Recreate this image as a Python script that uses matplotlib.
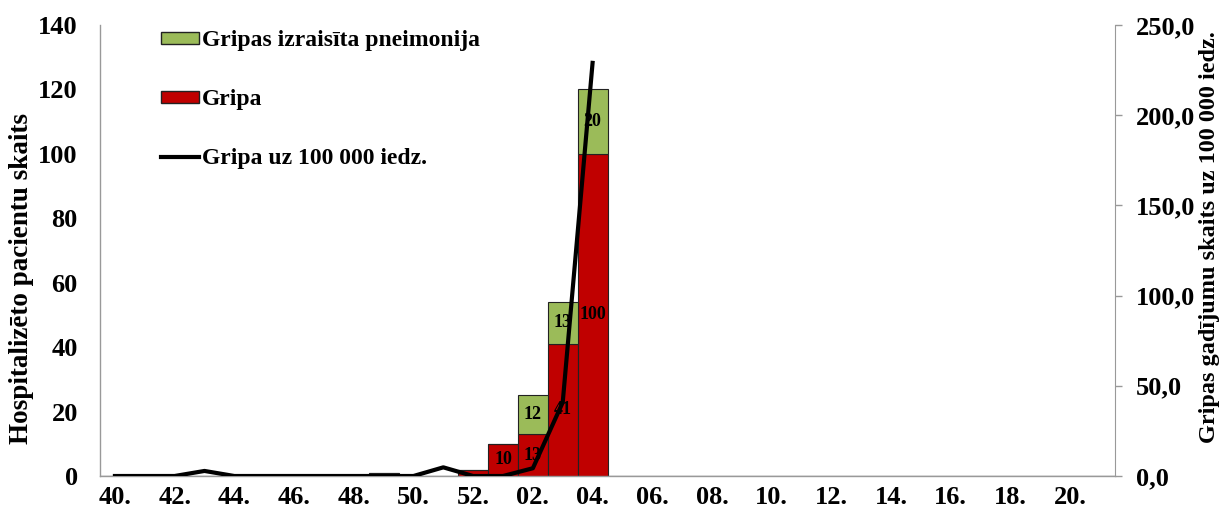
import matplotlib
matplotlib.use("Agg")
import matplotlib.pyplot as plt
import numpy as np
from matplotlib.patches import Patch
from matplotlib.lines import Line2D

weeks = [str(w) + "." for w in range(40, 53)] + ["%02d." % w for w in range(1, 22)]
gripa = [0, 0, 0, 0, 0, 0, 0, 0, 0, 1, 0, 0, 2, 10, 13, 41, 100] + [0] * 17
pneimonija = [0] * 14 + [12, 13, 20] + [0] * 17
rate = [0.0, 0.0, 0.0, 2.8, 0.0, 0.0, 0.0, 0.0, 0.0, 0.0, 0.0, 4.8, 0.0, 0.0, 4.3, 40.8, 229.0]

red = "#C00000"
green = "#9BBB59"
font = ["Liberation Serif", "DejaVu Serif"]
plt.rcParams["font.family"] = font
plt.rcParams["font.weight"] = "bold"

fig = plt.figure(figsize=(12.27, 5.16), dpi=100)
ax = fig.add_axes([100 / 1227, 1 - 476 / 516, 1015 / 1227, 451 / 516])
x = np.arange(len(weeks))

ax.bar(x, gripa, width=1.0, color=red, edgecolor="#222222", linewidth=0.8, zorder=2)
ax.bar(x, pneimonija, width=1.0, bottom=gripa, color=green, edgecolor="#222222", linewidth=0.8, zorder=2)

for i in range(len(weeks)):
    if gripa[i] >= 10:
        ax.text(x[i], gripa[i] / 2, str(gripa[i]), ha="center", va="center",
                fontsize=13, fontweight="bold", zorder=5)
    if pneimonija[i] > 0:
        ax.text(x[i], gripa[i] + pneimonija[i] / 2, str(pneimonija[i]), ha="center",
                va="center", fontsize=13, fontweight="bold", zorder=5)

ax.set_xlim(-0.5, len(weeks) - 0.5)
ax.set_ylim(0, 140)
ax.set_yticks(range(0, 141, 20))
ax.set_xticks(x[::2])
ax.set_xticklabels(weeks[::2])
ax.tick_params(axis="x", length=0, pad=7, labelsize=19)
ax.tick_params(axis="y", length=0, pad=16, labelsize=19)
for s in ["top", "right"]:
    ax.spines[s].set_visible(False)
for s in ["left", "bottom"]:
    ax.spines[s].set_color("#999999")
    ax.spines[s].set_linewidth(1.0)
ax.set_ylabel("Hospitalizēto pacientu skaits", fontsize=19.5, fontweight="bold")
ax.yaxis.set_label_coords(-66 / 1015, 0.437)

ax2 = ax.twinx()
ax2.plot(x[:len(rate)], rate, color="black", linewidth=3, zorder=6)
ax2.set_ylim(0, 250)
ax2.set_yticks(range(0, 251, 50))
ax2.set_yticklabels(["%d,0" % v for v in range(0, 251, 50)])
ax2.tick_params(axis="y", length=5, width=1, color="#999999", pad=10, labelsize=19)
for s in ["top", "left", "bottom"]:
    ax2.spines[s].set_visible(False)
ax2.spines["right"].set_color("#999999")
ax2.set_ylabel("Gripas gadījumu skaits uz 100 000 iedz.", fontsize=17.5, fontweight="bold")
ax2.yaxis.set_label_coords(1 + 84 / 1015, 0.53)

handles = [Patch(facecolor=green, edgecolor="#222222", linewidth=1),
           Patch(facecolor=red, edgecolor="#222222", linewidth=1),
           Line2D([0], [0], color="black", linewidth=3)]
labels = ["Gripas izraisīta pneimonija", "Gripa", "Gripa uz 100 000 iedz."]
leg = ax2.legend(handles, labels, loc="upper left", bbox_to_anchor=(52 / 1015, 1.0 + 4 / 451),
                 frameon=False, fontsize=17, handlelength=1.6, handleheight=0.4,
                 handletextpad=0.1, labelspacing=1.6, borderaxespad=0.0)
for t in leg.get_texts():
    t.set_fontweight("bold")

fig.savefig("out.png", dpi=100)
